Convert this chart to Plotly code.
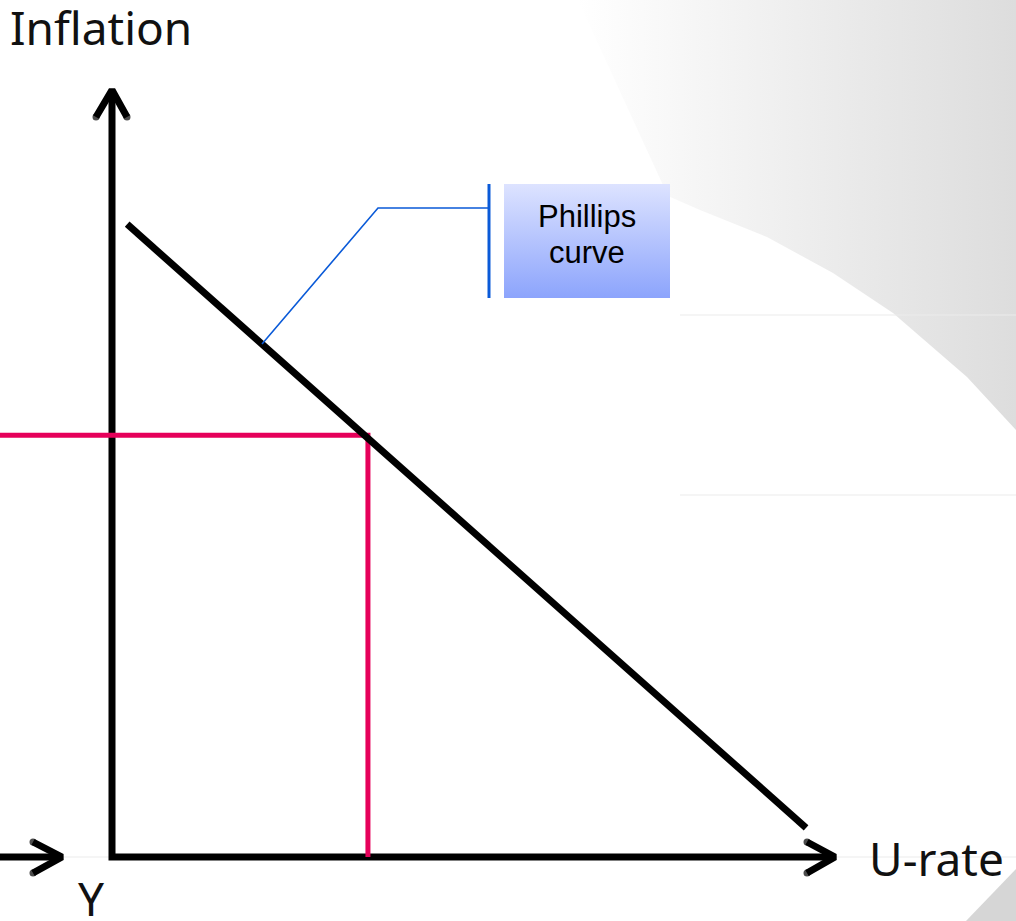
import plotly.graph_objects as go

W, H = 1016, 921

# ---- data (abstract units: both axes run 0..10) ----
phillips_u = [0.21, 9.60]
phillips_inf = [8.25, 0.38]
equilibrium_u = [3.54]
equilibrium_inf = [5.50]
axis_max = 10.0
axis_labels = ["Inflation", "U-rate", "Y"]
callout_lines = ["Phillips", "curve"]

# ---- layout mapping (pixel <-> data) ----
OX, OY = 112, 857           # pixel position of origin
SX = 72.3                   # px per x unit
SY = 76.7                   # px per y unit
x_range = [-OX / SX, (W - OX) / SX]
y_range = [-(H - OY) / SY, OY / SY]


def dx(p):
    return (p - OX) / SX


def dy(p):
    return (OY - p) / SY


fig = go.Figure()

# background swoosh (grey gradient)
swoosh_px = [(578, 0), (1016, 0), (1016, 430), (967, 377), (893, 313),
             (833, 273), (767, 237), (700, 210), (668, 196), (578, 0)]
fig.add_trace(go.Scatter(
    x=[dx(p[0]) for p in swoosh_px], y=[dy(p[1]) for p in swoosh_px],
    mode="lines", line=dict(width=0), fill="toself",
    fillgradient=dict(type="horizontal",
                      colorscale=[[0, "#ffffff"], [1, "#dddddd"]]),
    hoverinfo="skip", showlegend=False))

# bottom-right grey corner
corner_px = [(966, 921), (1016, 869), (1016, 921), (966, 921)]
fig.add_trace(go.Scatter(
    x=[dx(p[0]) for p in corner_px], y=[dy(p[1]) for p in corner_px],
    mode="lines", line=dict(width=0), fill="toself", fillcolor="#d6d6d6",
    hoverinfo="skip", showlegend=False))

# faint slide lines
for (x0, x1, yy) in [(680, 1016, 315), (680, 1016, 495), (60, 112, 857), (835, 1016, 857)]:
    fig.add_trace(go.Scatter(x=[dx(x0), dx(x1)], y=[dy(yy), dy(yy)], mode="lines",
                             line=dict(color="#ececec", width=1.2),
                             hoverinfo="skip", showlegend=False))

AX_W = 7
BLACK = "#000000"
cap_marker = dict(color=BLACK, size=[AX_W, 0, AX_W], line=dict(width=0))

# axes
fig.add_trace(go.Scatter(x=[0, 0, axis_max], y=[axis_max, 0, 0], mode="lines",
                         line=dict(color=BLACK, width=AX_W), hoverinfo="skip", showlegend=False))
# arrow heads (chevrons)
fig.add_trace(go.Scatter(x=[dx(96), 0, dx(127)], y=[dy(117), axis_max, dy(117)], mode="lines+markers",
                         line=dict(color=BLACK, width=AX_W), marker=cap_marker,
                         hoverinfo="skip", showlegend=False))
fig.add_trace(go.Scatter(x=[dx(807), axis_max, dx(807)], y=[dy(842), 0, dy(873)], mode="lines+markers",
                         line=dict(color=BLACK, width=AX_W), marker=cap_marker,
                         hoverinfo="skip", showlegend=False))
# left arrow (output axis of adjacent panel)
fig.add_trace(go.Scatter(x=[x_range[0], dx(62)], y=[0, 0], mode="lines",
                         line=dict(color=BLACK, width=AX_W), hoverinfo="skip", showlegend=False))
fig.add_trace(go.Scatter(x=[dx(33), dx(62), dx(33)], y=[dy(842), 0, dy(873)], mode="lines+markers",
                         line=dict(color=BLACK, width=AX_W), marker=cap_marker,
                         hoverinfo="skip", showlegend=False))

# equilibrium guide lines (red)
RED = "#E6005A"
fig.add_trace(go.Scatter(x=[x_range[0], equilibrium_u[0], equilibrium_u[0]],
                         y=[equilibrium_inf[0], equilibrium_inf[0], 0], mode="lines",
                         line=dict(color=RED, width=5), hoverinfo="skip", showlegend=False))

# Phillips curve
fig.add_trace(go.Scatter(x=phillips_u, y=phillips_inf, mode="lines",
                         line=dict(color=BLACK, width=AX_W), hoverinfo="skip", showlegend=False))

# callout leader line
BLUE = "#0a5ad8"
fig.add_trace(go.Scatter(x=[dx(262), dx(378), dx(489)], y=[dy(344), dy(208), dy(208)], mode="lines",
                         line=dict(color=BLUE, width=1.6), hoverinfo="skip", showlegend=False))
fig.add_trace(go.Scatter(x=[dx(489), dx(489)], y=[dy(184), dy(298)], mode="lines",
                         line=dict(color=BLUE, width=3), hoverinfo="skip", showlegend=False))

# callout box with vertical gradient
box_px = [(504, 184), (670, 184), (670, 298), (504, 298), (504, 184)]
fig.add_trace(go.Scatter(
    x=[dx(p[0]) for p in box_px], y=[dy(p[1]) for p in box_px],
    mode="lines", line=dict(width=0), fill="toself",
    fillgradient=dict(type="vertical", colorscale=[[0, "#8ca4fc"], [1, "#dde3ff"]]),
    hoverinfo="skip", showlegend=False))

box_font = dict(family="Liberation Sans, Arial", size=31, color="#000000")
fig.add_annotation(x=dx(587), y=dy(216), text=callout_lines[0], showarrow=False,
                   font=box_font, xanchor="center", yanchor="middle")
fig.add_annotation(x=dx(587), y=dy(252), text=callout_lines[1], showarrow=False,
                   font=box_font, xanchor="center", yanchor="middle")

# labels
label_font = dict(family="Noto Sans", size=46, color="#111111")
fig.add_annotation(x=dx(8), y=dy(27), text=axis_labels[0], showarrow=False,
                   font=label_font, xanchor="left", yanchor="middle")
fig.add_annotation(x=dx(867), y=dy(858), text=axis_labels[1], showarrow=False,
                   font=label_font, xanchor="left", yanchor="middle")
fig.add_annotation(x=dx(91), y=dy(898), text=axis_labels[2], showarrow=False,
                   font=label_font, xanchor="center", yanchor="middle")

fig.update_layout(
    width=W, height=H, margin=dict(l=0, r=0, t=0, b=0),
    paper_bgcolor="white", plot_bgcolor="white",
    xaxis=dict(range=x_range, visible=False, fixedrange=True),
    yaxis=dict(range=y_range, visible=False, fixedrange=True),
    showlegend=False,
)

fig.write_html("out.html", config={"displayModeBar": False},
               post_script="document.body.style.margin='0';document.body.style.overflow='hidden';")
